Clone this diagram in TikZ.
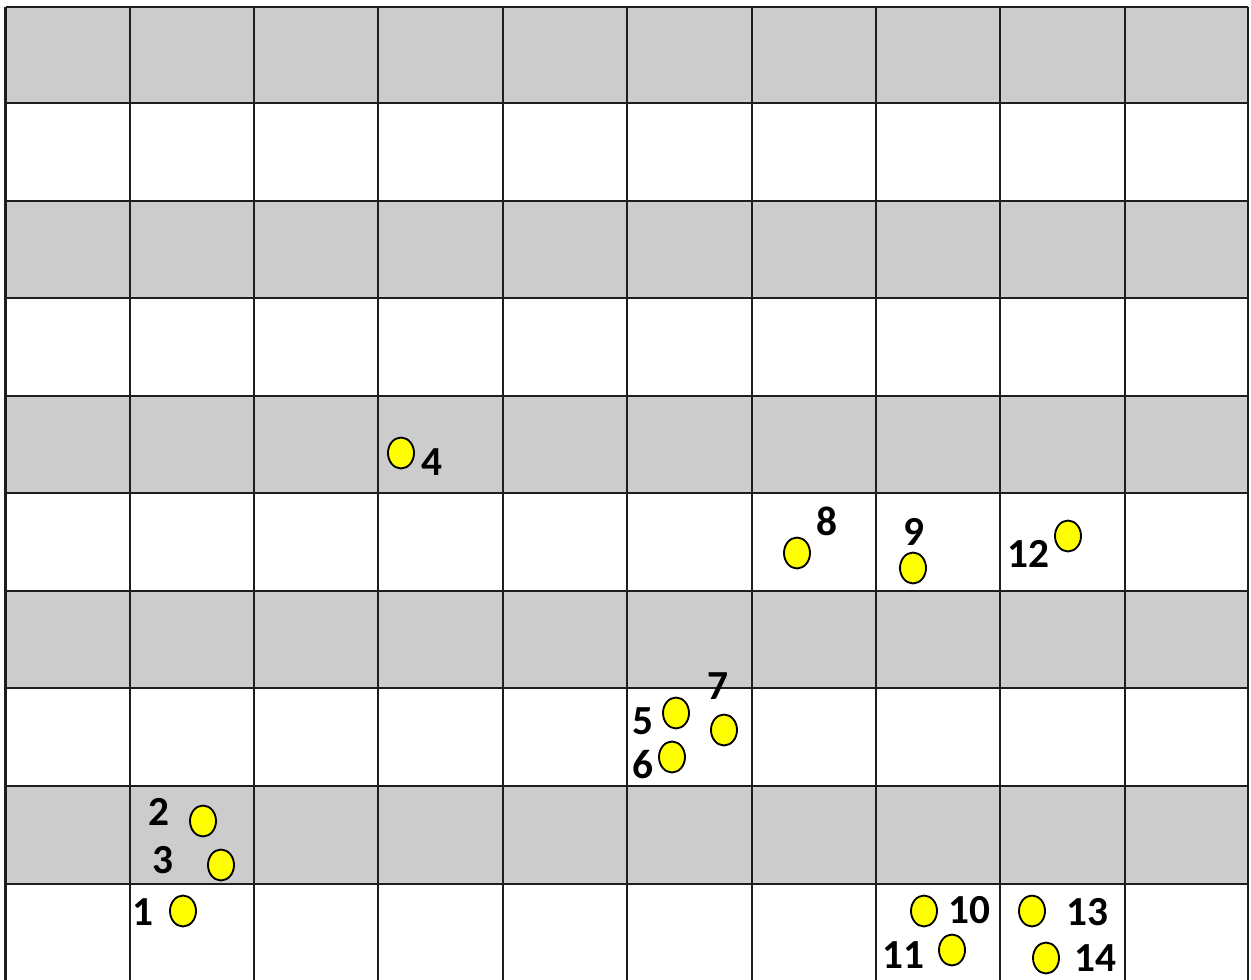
\documentclass[tikz,border=0pt]{standalone}
\usepackage{fontspec}
\setmainfont{Carlito}
\usetikzlibrary{shapes.geometric}
\definecolor{rowgray}{HTML}{CCCCCC}
\definecolor{gridline}{HTML}{1E1E1E}
\definecolor{dotyellow}{HTML}{FFFF00}
\tikzset{
  dot/.style={ellipse, draw=black, fill=dotyellow, line width=1.4pt, minimum width=19.5pt, minimum height=23.2pt, inner sep=0pt},
  lbl/.style={font=\fontsize{31}{33}\selectfont\bfseries, inner sep=0pt, text=black},
  gridl/.style={draw=gridline, line width=2pt}
}
\begin{document}
\begin{tikzpicture}[x=0.75pt,y=-0.75pt]
\useasboundingbox (0,0) rectangle (1251,980);
\fill[white] (0,0) rectangle (1251,980);
% gray rows
\foreach \t/\b in {7/103, 201/298, 396/493, 591/688, 786/884}
  \fill[rowgray] (5.5,\t) rectangle (1248,\b);
% horizontal lines
\foreach \y in {7,103,201,298,396,493,591,688,786,884}
  \draw[gridl] (5.5,\y) -- (1248,\y);
% vertical lines
\foreach \x in {5.5,130,254,378,503,627,752,876,1000,1125,1248}
  \draw[gridl] (\x,7) -- (\x,982);
% dots
\node[dot] (d1) at (183,911) {};
\node[dot] (d2) at (203,821) {};
\node[dot] (d3) at (221,865) {};
\node[dot] (d4) at (401,453) {};
\node[dot] (d5) at (676,713) {};
\node[dot] (d6) at (672,757) {};
\node[dot] (d7) at (724,730) {};
\node[dot] (d8) at (797,553) {};
\node[dot] (d9) at (913,568) {};
\node[dot] (d10) at (924,911) {};
\node[dot] (d11) at (952,950) {};
\node[dot] (d12) at (1068,536) {};
\node[dot] (d13) at (1032,911) {};
\node[dot] (d14) at (1046,958) {};
% labels
\node[lbl] (l1) at (143,912) {1};
\node[lbl] (l2) at (159,812) {2};
\node[lbl] (l3) at (163,860) {3};
\node[lbl] (l4) at (432,462) {4};
\node[lbl] (l5) at (643,721) {5};
\node[lbl] (l6) at (643,765) {6};
\node[lbl] (l7) at (718,686) {7};
\node[lbl] (l8) at (827,521) {8};
\node[lbl] (l9) at (914,532) {9};
\node[lbl] (l10) at (969,910) {10};
\node[lbl] (l11) at (903,955) {11};
\node[lbl] (l12) at (1028,554) {12};
\node[lbl] (l13) at (1087,912) {13};
\node[lbl] (l14) at (1095,958) {14};
\end{tikzpicture}
\end{document}
